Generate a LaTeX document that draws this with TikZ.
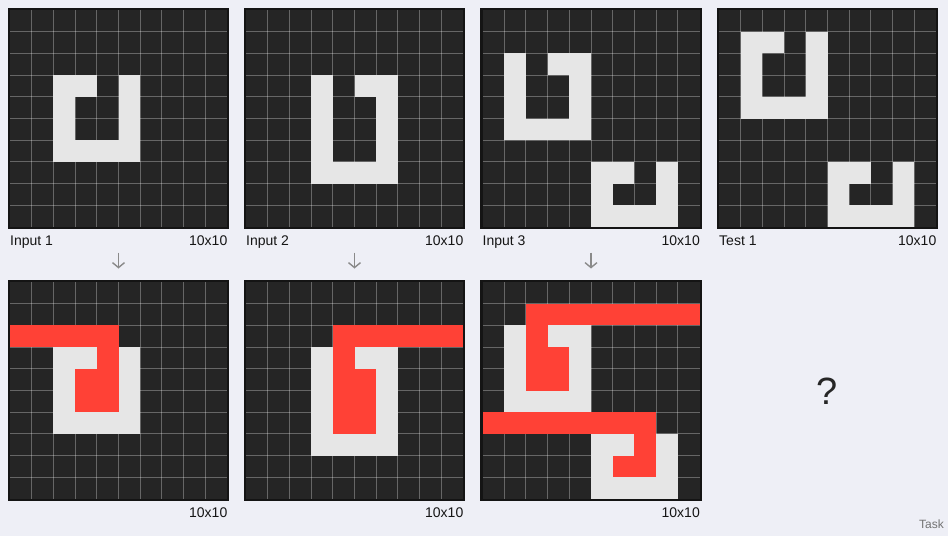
\documentclass[tikz,border=0pt]{standalone}
\usepackage{fontspec}
\setmainfont{Liberation Sans}
\usetikzlibrary{arrows.meta}
\definecolor{bgc}{HTML}{EEEFF6}
\definecolor{cellbg}{HTML}{252525}
\definecolor{cellw}{HTML}{E6E6E6}
\definecolor{cellr}{HTML}{FF4136}
\definecolor{frame}{HTML}{141414}
\definecolor{arrowc}{HTML}{8A8A8A}
\definecolor{txt}{HTML}{151515}
\newcommand\mygrid[2]{% #1 x0, #2 y0 : interior origin at (#1+2,#2+2)
  \fill[cellbg] (#1+2,#2+2) rectangle ++(217,217);
  \foreach \i in {1,...,9} {
    \draw[gridline] (#1+2+\i*21.7,#2+2) -- ++(0,217);
    \draw[gridline] (#1+2,#2+2+\i*21.7) -- ++(217,0);}}
\newcommand\mycells[4]{% #1 x0, #2 y0, #3 colour, #4 list r/c
  \foreach \r/\c in {#4} \fill[#3] (#1+2+\c*21.7,#2+2+\r*21.7) rectangle ++(21.7,21.7);}
\newcommand\myframe[2]{%
  \draw[frame, line width=2.2pt] (#1+0.9,#2+0.9) rectangle ++(219.2,219.2);}
\tikzset{
  gridline/.style={white, opacity=0.3, line width=0.9pt},
  lbl/.style={font=\fontsize{14}{16}\selectfont, text=txt, inner sep=0pt},
  downarrow/.style={draw=arrowc, line width=1.4pt, -{Straight Barb[length=5pt,width=12pt,line width=1.4pt]}},
}
\begin{document}
\begin{tikzpicture}[x=1pt,y=-1pt]
\fill[bgc] (0,0) rectangle (948,536);
\useasboundingbox (0,0) rectangle (948,536);

% ---------- Input 1 ----------
\mygrid{8}{8}
\mycells{8}{8}{cellw}{3/2,3/3,3/5,4/2,4/5,5/2,5/5,6/2,6/3,6/4,6/5}
\myframe{8}{8}
\node[lbl, anchor=base west] (lin1) at (10,245.5) {Input 1};
\node[lbl, anchor=base east] (sin1) at (227.5,245.5) {10x10};

% ---------- Output 1 ----------
\mygrid{8}{280}
\mycells{8}{280}{cellw}{3/2,3/3,3/5,4/2,4/5,5/2,5/5,6/2,6/3,6/4,6/5}
\mycells{8}{280}{cellr}{2/0,2/1,2/2,2/3,2/4,3/4,4/3,4/4,5/3,5/4}
\myframe{8}{280}
\node[lbl, anchor=base east] (sout1) at (227.5,517.5) {10x10};

% ---------- Input 2 ----------
\mygrid{244}{8}
\mycells{244}{8}{cellw}{3/3,3/5,3/6,4/3,4/6,5/3,5/6,6/3,6/6,7/3,7/4,7/5,7/6}
\myframe{244}{8}
\node[lbl, anchor=base west] (lin2) at (246,245.5) {Input 2};
\node[lbl, anchor=base east] (sin2) at (463.5,245.5) {10x10};

% ---------- Output 2 ----------
\mygrid{244}{280}
\mycells{244}{280}{cellw}{3/3,3/5,3/6,4/3,4/6,5/3,5/6,6/3,6/6,7/3,7/4,7/5,7/6}
\mycells{244}{280}{cellr}{2/4,2/5,2/6,2/7,2/8,2/9,3/4,4/4,4/5,5/4,5/5,6/4,6/5}
\myframe{244}{280}
\node[lbl, anchor=base east] (sout2) at (463.5,517.5) {10x10};

% ---------- Input 3 ----------
\mygrid{480.5}{8}
\mycells{480.5}{8}{cellw}{2/1,2/3,2/4,3/1,3/4,4/1,4/4,5/1,5/2,5/3,5/4,7/5,7/6,7/8,8/5,8/8,9/5,9/6,9/7,9/8}
\myframe{480.5}{8}
\node[lbl, anchor=base west] (lin3) at (482.5,245.5) {Input 3};
\node[lbl, anchor=base east] (sin3) at (700,245.5) {10x10};

% ---------- Output 3 ----------
\mygrid{480.5}{280}
\mycells{480.5}{280}{cellw}{2/1,2/3,2/4,3/1,3/4,4/1,4/4,5/1,5/2,5/3,5/4,7/5,7/6,7/8,8/5,8/8,9/5,9/6,9/7,9/8}
\mycells{480.5}{280}{cellr}{1/2,1/3,1/4,1/5,1/6,1/7,1/8,1/9,2/2,3/2,3/3,4/2,4/3,6/0,6/1,6/2,6/3,6/4,6/5,6/6,6/7,7/7,8/6,8/7}
\myframe{480.5}{280}
\node[lbl, anchor=base east] (sout3) at (700,517.5) {10x10};

% ---------- Test 1 ----------
\mygrid{717}{8}
\mycells{717}{8}{cellw}{1/1,1/2,1/4,2/1,2/4,3/1,3/4,4/1,4/2,4/3,4/4,7/5,7/6,7/8,8/5,8/8,9/5,9/6,9/7,9/8}
\myframe{717}{8}
\node[lbl, anchor=base west] (ltest) at (719,245.5) {Test 1};
\node[lbl, anchor=base east] (stest) at (936.5,245.5) {10x10};

% ---------- arrows ----------
\coordinate (a1s) at (118.5,252.5); \coordinate (a1e) at (118.5,268.5);
\coordinate (a2s) at (354.5,252.5); \coordinate (a2e) at (354.5,268.5);
\coordinate (a3s) at (591,252.5);   \coordinate (a3e) at (591,268.5);
\draw[downarrow] (a1s) -- (a1e);
\draw[downarrow] (a2s) -- (a2e);
\draw[downarrow] (a3s) -- (a3e);

% ---------- question mark and footer ----------
\node[inner sep=0pt, font=\fontsize{38}{40}\selectfont, text=black!85] (q) at (827.5,391) {?};
\node[inner sep=0pt, anchor=base east, font=\fontsize{12}{14}\selectfont, text=black!55] (task) at (944,528.5) {Task};
\end{tikzpicture}
\end{document}
